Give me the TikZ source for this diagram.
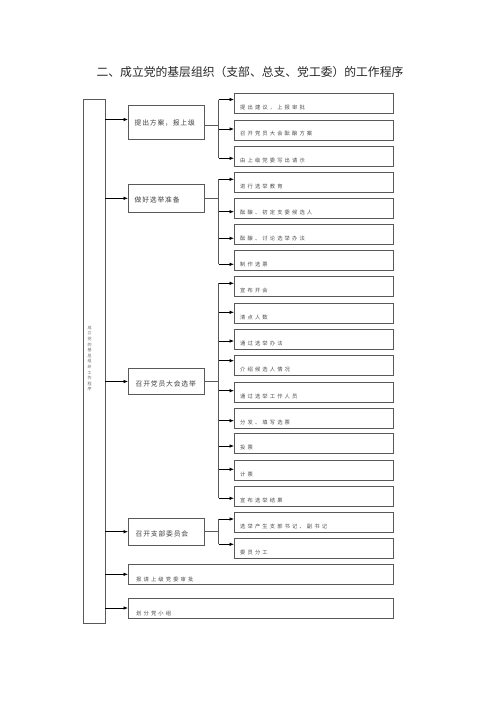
\documentclass[tikz,border=0pt]{standalone}
\usepackage{fontspec}
\setmainfont{Noto Sans CJK SC}
\newfontfamily\cjk{Noto Sans CJK SC}
\newfontfamily\cjkA[LetterSpace=12]{Noto Sans CJK SC}
\newfontfamily\cjkB[LetterSpace=40]{Noto Sans CJK SC}
\usetikzlibrary{arrows.meta}
\begin{document}
\begin{tikzpicture}[x=1pt,y=-1pt,
 box/.style={draw=black!65, line width=0.7pt, anchor=north west, inner sep=0pt},
 lnk/.style={draw=black!65, line width=0.7pt},
 arr/.style={draw=black, line width=0.7pt, -{Latex[length=4.5pt,width=3.6pt]}},
 tone/.style={anchor=west, inner sep=0pt, font=\cjkA\fontsize{6.8}{8}\selectfont, text=black!75},
 ttwo/.style={anchor=west, inner sep=0pt, font=\cjkB\fontsize{5.3}{6}\selectfont, text=black!70},
]
\useasboundingbox (0,0) rectangle (500,707);
\fill[white] (0,0) rectangle (500,707);

% title
\node[inner sep=0pt, font=\cjk\fontsize{11.8}{14}\selectfont, text=black!85] (title) at (250,72) {二、成立党的基层组织（支部、总支、党工委）的工作程序};

% left tall box
\node[box, minimum width=22pt, minimum height=524pt] (L) at (83,99) {};
\node[inner sep=0pt, align=center, font=\cjk\fontsize{4}{5.6}\selectfont, text=black!60] (Lt) at (89.5,358.5)
 {成\\立\\党\\的\\基\\层\\组\\织\\工\\作\\程\\序};

% level-1 boxes
\node[box, minimum width=76pt, minimum height=34pt] (A1) at (128,105) {};
\node[box, minimum width=76pt, minimum height=27.4pt] (A2) at (128,184.3) {};
\node[box, minimum width=76pt, minimum height=26pt] (A3) at (128,368.3) {};
\node[box, minimum width=76pt, minimum height=26.7pt] (A4) at (128,518.3) {};
\node[box, minimum width=265pt, minimum height=20pt] (A5) at (128,564.3) {};
\node[box, minimum width=265pt, minimum height=20pt] (A6) at (128,597.7) {};

\node[tone] (AT1) at ([shift={(6.5,0.5)}]A1.west) {提出方案，报上级};
\node[tone] (AT2) at ([shift={(6.5,1.2)}]A2.west) {做好选举准备};
\node[tone] (AT3) at ([shift={(7.5,2.5)}]A3.west) {召开党员大会选举};
\node[tone] (AT4) at ([shift={(7.5,1.5)}]A4.west) {召开支部委员会};
\node[ttwo] (AT5) at ([shift={(8,5)}]A5.west) {报请上级党委审批};
\node[ttwo] (AT6) at ([shift={(8,5)}]A6.west) {划分党小组};

% arrows from left box
\foreach \k/\a in {1/119.5,2/198.3,3/381.5,4/531.7,5/574.3,6/608}{
  \coordinate (Q\k) at (105,\a);
  \draw[arr] (Q\k) -- (Q\k -| A\k.west);
}

% sub boxes
\foreach \i/\y/\a/\t in {
 1/93.3/99.5/提出建议，上报审批,
 2/119.5/129/召开党员大会酝酿方案,
 3/146/158.3/由上级党委写出请示,
 4/171.7/179.3/进行选举教育,
 5/198.3/211.7/酝酿、初定支委候选人,
 6/224.3/238.3/酝酿、讨论选举办法,
 7/250/264.3/制作选票,
 8/276/283.3/宣布开会,
 9/302.7/312.3/清点人数,
 10/329.3/341/通过选举办法,
 11/355.3/360.7/介绍候选人情况,
 12/381.7/390.7/通过选举工作人员,
 13/407.7/420.7/分发、填写选票,
 14/433.3/446/投票,
 15/460/469.3/计票,
 16/486/498.3/宣布选举结果,
 17/512.3/519/选举产生支部书记、副书记,
 18/538.3/544.3/委员分工}{
  \node[box, minimum width=159pt, minimum height=20pt] (S\i) at (234,\y) {};
  \node[ttwo] (T\i) at ([shift={(6,4)}]S\i.west) {\t};
  \coordinate (P\i) at (218.5,\a);
  \draw[arr] (P\i) -- (P\i -| S\i.west);
}

% buses
\coordinate (H1) at (218.5,125);
\coordinate (H2) at (218.5,198.3);
\coordinate (H3) at (218.5,381.3);
\coordinate (H4) at (218.5,531.7);
\draw[lnk] (H1 -| A1.east) -- (H1);
\draw[lnk] (H2 -| A2.east) -- (H2);
\draw[lnk] (H3 -| A3.east) -- (H3);
\draw[lnk] (H4 -| A4.east) -- (H4);
\draw[lnk] (P1) -- (P3);
\draw[lnk] (P4) -- (P7);
\draw[lnk] (P8) -- (P16);
\draw[lnk] (P17) -- (P18);
\end{tikzpicture}
\end{document}
